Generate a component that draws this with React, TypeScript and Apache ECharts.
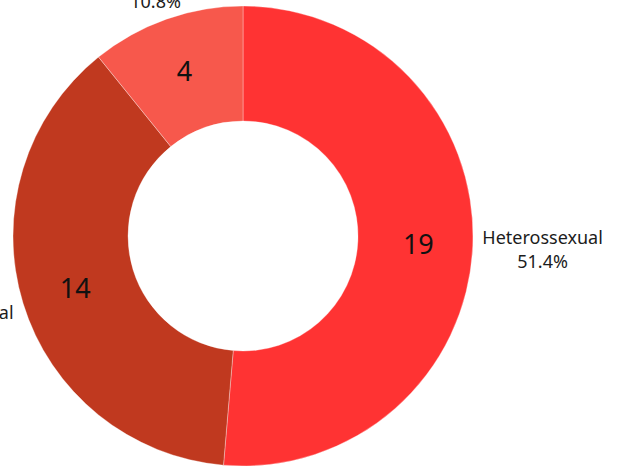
import React, { useEffect, useRef } from "react";
import * as echarts from "echarts";

const categories = ["Heterossexual", "Homossexual", "Bissexual"];
const values = [19, 14, 4];
const colors = ["#FF3333", "#C0391F", "#F7584C"];

const FONT = "'Noto Sans', 'Open Sans', sans-serif";

export default function App() {
  const ref = useRef<HTMLDivElement>(null);

  useEffect(() => {
    document.body.style.margin = "0";
    const chart = echarts.init(ref.current as HTMLDivElement, null, { renderer: "svg" });

    const center = [243, 236];
    const radius = [115, 230];
    const GAP = 9.5;

    const sliceData = categories.map((name, i) => ({
      name,
      value: values[i],
      itemStyle: { color: colors[i] },
    }));
    const labelData = categories.map((name, i) => ({ name, value: values[i] }));

    chart.setOption({
      animation: false,
      series: [
        {
          type: "pie",
          center,
          radius,
          startAngle: 90,
          clockwise: true,
          silent: true,
          avoidLabelOverlap: false,
          data: sliceData,
          itemStyle: { borderColor: "rgba(255,255,255,0.55)", borderWidth: 0.6 },
          label: {
            show: true,
            position: "inside",
            formatter: "{c}",
            fontFamily: FONT,
            fontSize: 27,
            color: "#111111",
          },
          labelLine: { show: false },
        },
        {
          type: "pie",
          center,
          radius,
          startAngle: 90,
          clockwise: true,
          silent: true,
          avoidLabelOverlap: false,
          percentPrecision: 1,
          data: labelData,
          itemStyle: { color: "rgba(0,0,0,0)" },
          label: {
            show: true,
            position: "outside",
            formatter: "{n|{b}}\n{n|{d}%}",
            rich: {
              n: {
                align: "center",
                fontFamily: FONT,
                fontSize: 18,
                lineHeight: 24,
                color: "#1c1c1c",
              },
            },
          },
          labelLine: {
            show: true,
            length: 10,
            length2: 2,
            lineStyle: { opacity: 0, width: 0 },
          },
          labelLayout: (p: any) => {
            const pts = p.labelLinePoints;
            if (!pts || pts.length < 2) return {};
            const x1 = pts[0][0];
            const y1 = pts[0][1];
            const vx = pts[1][0] - x1;
            const vy = pts[1][1] - y1;
            const len = Math.hypot(vx, vy) || 1;
            const dx = vx / len;
            const dy = vy / len;
            const hw = p.labelRect.width / 2;
            const hh = p.labelRect.height / 2;
            // distance from the slice's outer point to the label box placed at t along the bisector
            const dist = (t: number) => {
              const ox = Math.max(0, Math.abs(t * dx) - hw);
              const oy = Math.max(0, Math.abs(t * dy) - hh);
              return Math.hypot(ox, oy);
            };
            let lo = 0;
            let hi = 1000;
            for (let k = 0; k < 60; k++) {
              const mid = (lo + hi) / 2;
              if (dist(mid) < GAP) lo = mid;
              else hi = mid;
            }
            const t = (lo + hi) / 2;
            return {
              x: x1 + dx * t,
              y: y1 + dy * t,
              align: "center",
              verticalAlign: "middle",
            };
          },
        },
      ],
    });

    return () => {
      chart.dispose();
    };
  }, []);

  return <div ref={ref} style={{ width: 623, height: 466 }} />;
}
